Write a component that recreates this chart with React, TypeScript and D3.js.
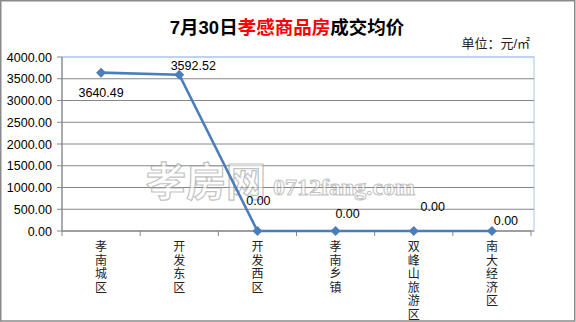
import React from "react";
import * as d3 from "d3";

const categories = ["孝南城区", "开发东区", "开发西区", "孝南乡镇", "双峰山旅游区", "南大经济区"];
const values = [3640.49, 3592.52, 0, 0, 0, 0];
const yTicks = [0, 500, 1000, 1500, 2000, 2500, 3000, 3500, 4000];
// label offsets relative to each point (dx, dy of baseline)
const labelDx = [0, 14, 1, 12, 19, 14];
const labelDy = [24, -5, -26, -13, -20, -6];

const W = 576;
const H = 322;
const CJK = "'Liberation Sans', 'Noto Sans CJK SC', sans-serif";

export default function App() {
  const x = d3.scaleBand<string>().domain(categories).range([62, 531]);
  const y = d3.scaleLinear().domain([0, 4000]).range([231, 57]);
  const cx = (c: string) => (x(c) as number) + x.bandwidth() / 2;
  const line = d3
    .line<number>()
    .x((_, i) => cx(categories[i]))
    .y((v) => y(v));
  const fmt = d3.format(".2f");
  const tickXs = categories.map((c) => x(c) as number).concat([x.range()[1]]);

  return (
    <svg
      width={W}
      height={H}
      style={{ position: "absolute", left: 0, top: 0 }}
      fontFamily={CJK}
    >
      <rect x={0} y={0} width={W} height={H} fill="#fff" />
      <rect x={0.75} y={0.75} width={W - 2} height={H - 1.75} fill="none" stroke="#8a8a8a" strokeWidth={1.5} />

      {/* title */}
      <text x={287} y={34} textAnchor="middle" fontSize={18.5} fontWeight="bold" fill="#000">
        <tspan>7月30日</tspan>
        <tspan fill="#ff0000">孝感商品房</tspan>
        <tspan>成交均价</tspan>
      </text>
      <text x={530} y={48} textAnchor="end" fontSize={13} fill="#222">
        单位：元/㎡
      </text>

      {/* plot area border */}
      <rect x={62} y={57} width={472} height={174} fill="none" stroke="#a9c4ec" strokeWidth={1} />

      {/* gridlines */}
      {yTicks.map((t) => (
        <line key={t} x1={62} x2={534} y1={y(t)} y2={y(t)} stroke={t === 4000 ? "#a9c4ec" : "#878787"} strokeWidth={1.2} />
      ))}

      {/* watermark */}
      <g opacity={0.6}>
        <text x={146} y={196} fontSize={40} fontWeight="bold" fill="#fff" stroke="#9a9a9a" strokeWidth={1.2} fontFamily="'Noto Sans CJK SC', sans-serif">
          孝房网
        </text>
        <text x={273} y={195} fontSize={24} fontWeight="bold" fill="#fff" stroke="#9a9a9a" strokeWidth={1} fontFamily="'Liberation Serif', serif">
          0712fang.com
        </text>
      </g>

      {/* y axis */}
      <line x1={62} x2={62} y1={57} y2={231} stroke="#878787" strokeWidth={1.2} />
      {yTicks.map((t) => (
        <g key={"yt" + t}>
          <line x1={57} x2={62} y1={y(t)} y2={y(t)} stroke="#878787" />
          <text x={52} y={y(t) + 4.5} textAnchor="end" fontSize={12.5} fill="#000">
            {fmt(t)}
          </text>
        </g>
      ))}

      {/* x axis */}
      <line x1={62} x2={531} y1={231} y2={231} stroke="#878787" strokeWidth={1.2} />
      {tickXs.map((tx, i) => (
        <line key={"xt" + i} x1={tx} x2={tx} y1={231} y2={236} stroke="#878787" />
      ))}
      {categories.map((c) =>
        Array.from(c).map((ch, j) => (
          <text
            key={c + j}
            x={cx(c)}
            y={251 + j * 13.5}
            fontSize={12}
            textAnchor="middle"
            fill="#222"
          >
            {ch}
          </text>
        ))
      )}

      {/* series */}
      <path d={line(values) || ""} fill="none" stroke="#4a7ebb" strokeWidth={2.6} strokeLinejoin="round" />
      {values.map((v, i) => {
        const px = cx(categories[i]);
        const py = y(v);
        return (
          <path key={"m" + i} d={`M${px},${py - 5}L${px + 5},${py}L${px},${py + 5}L${px - 5},${py}Z`} fill="#4a7ebb" />
        );
      })}
      {values.map((v, i) => (
        <text
          key={"l" + i}
          x={cx(categories[i]) + labelDx[i]}
          y={y(v) + labelDy[i]}
          textAnchor="middle"
          fontSize={12.5}
          fill="#000"
        >
          {fmt(v)}
        </text>
      ))}
    </svg>
  );
}
